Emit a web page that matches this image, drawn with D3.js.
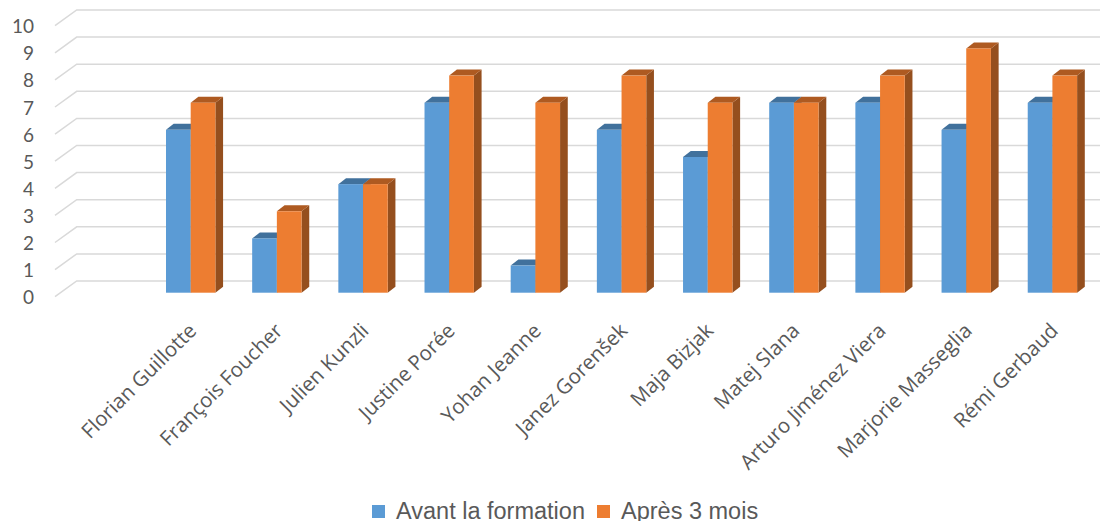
<!DOCTYPE html>
<html>
<head>
<meta charset="utf-8">
<script src="https://cdn.jsdelivr.net/npm/d3@7"></script>
<style>
  html, body { margin: 0; padding: 0; background: #fff; }
  svg { display: block; }
</style>
</head>
<body>
<svg id="chart" width="1100" height="521"></svg>
<script>
// Participants and their scores before training and three months later
const categories = [
  "Florian Guillotte", "François Foucher", "Julien Kunzli", "Justine Porée",
  "Yohan Jeanne", "Janez Gorenšek", "Maja Bizjak", "Matej Slana",
  "Arturo Jiménez Viera", "Marjorie Masseglia", "Rémi Gerbaud"
];
const seriesNames = ["Avant la formation", "Après 3 mois"];
const avantValues = [6, 2, 4, 7, 1, 6, 5, 7, 7, 6, 7];
const apresValues = [7, 3, 4, 8, 7, 8, 7, 7, 8, 9, 8];
const yTicks = [0, 1, 2, 3, 4, 5, 6, 7, 8, 9, 10];

const colors = {
  front: ["#5B9BD5", "#ED7D31"],
  top:   ["#41719C", "#AE5A21"],
  side:  ["#3E6C96", "#954F1E"]
};

const svg = d3.select("#chart");

// Value scales for the back wall, the front edge of the left wall, and the bar faces
const yBack  = d3.scaleLinear().domain([0, 10]).range([281, 10]);
const yFront = d3.scaleLinear().domain([0, 10]).range([296.7, 25.7]);
const yBar   = d3.scaleLinear().domain([0, 10]).range([292.7, 21.3]);

const wallFrontX = 55, wallBackX = 76.7, plotRight = 1100;
const depth = { dx: 7.7, dy: -6 };

const x = d3.scaleBand().domain(categories).range([147.6, 1095.5])
  .paddingInner(0.427).paddingOuter(0.2135);
const xs = d3.scaleBand().domain(seriesNames).range([0, x.bandwidth()]);

// Gridlines: diagonal on the side wall, then horizontal on the back wall
const grid = svg.append("g").attr("fill", "none")
  .attr("stroke", "#D9D9D9").attr("stroke-width", 1.5);
grid.selectAll("path").data(yTicks).join("path")
  .attr("d", v => `M${wallFrontX},${yFront(v)}L${wallBackX},${yBack(v)}L${plotRight},${yBack(v)}`);

// Y-axis labels
svg.append("g").selectAll("text").data(yTicks).join("text")
  .attr("x", 34).attr("y", v => yFront(v))
  .attr("text-anchor", "end").attr("dominant-baseline", "central")
  .attr("font-family", "Lato, 'Noto Sans', sans-serif").attr("font-size", 19)
  .attr("fill", "#595959")
  .text(d => d);

// 3D columns
const rows = categories.map((c, i) => ({ c, vals: [avantValues[i], apresValues[i]] }));
const bars = svg.append("g");
rows.forEach(r => {
  r.vals.forEach((v, s) => {
    const x0 = x(r.c) + xs(seriesNames[s]);
    const x1 = x0 + xs.bandwidth();
    const yt = yBar(v), yb = yBar(0);
    const g = bars.append("g");
    // right side face
    g.append("path")
      .attr("d", `M${x1},${yt}L${x1 + depth.dx},${yt + depth.dy}L${x1 + depth.dx},${yb + depth.dy}L${x1},${yb}Z`)
      .attr("fill", colors.side[s]);
    // top face
    g.append("path")
      .attr("d", `M${x0},${yt}L${x0 + depth.dx},${yt + depth.dy}L${x1 + depth.dx},${yt + depth.dy}L${x1},${yt}Z`)
      .attr("fill", colors.top[s]);
    // front face
    g.append("rect")
      .attr("x", x0).attr("y", yt)
      .attr("width", x1 - x0).attr("height", yb - yt)
      .attr("fill", colors.front[s]);
  });
});

// Category labels, rotated
svg.append("g").selectAll("text").data(categories).join("text")
  .attr("transform", c => `translate(${x(c) + x.bandwidth() / 2 + 7},${332}) rotate(-45)`)
  .attr("text-anchor", "end")
  .attr("font-family", "'Open Sans', sans-serif").attr("font-size", 20.5)
  .attr("fill", "#595959")
  .text(c => c);

// Legend
const legend = svg.append("g").attr("font-family", "'Liberation Sans', Arial, sans-serif")
  .attr("font-size", 23.5).attr("fill", "#595959");
const legendX = [372, 597];
seriesNames.forEach((name, i) => {
  legend.append("rect").attr("x", legendX[i]).attr("y", 505)
    .attr("width", 13).attr("height", 13).attr("fill", colors.front[i]);
  legend.append("text").attr("x", legendX[i] + 24).attr("y", 518.5).text(name);
});
</script>
</body>
</html>
